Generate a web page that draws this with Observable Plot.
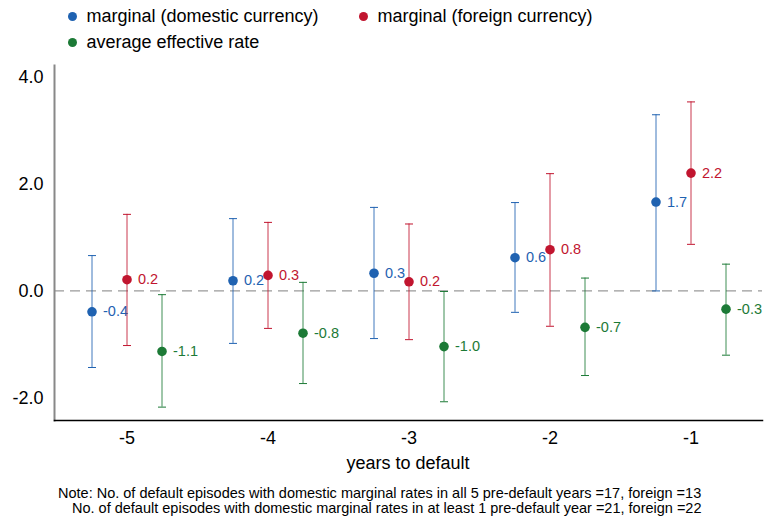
<!DOCTYPE html>
<html>
<head>
<meta charset="utf-8">
<script src="https://cdn.jsdelivr.net/npm/d3@7"></script>
<script src="https://cdn.jsdelivr.net/npm/@observablehq/plot@0.6"></script>
<style>
  body { margin: 0; background: #fff; font-family: "Liberation Sans", Arial, sans-serif; color: #000; width: 766px; }
  #legend { position: relative; height: 56px; font-size: 18px; }
  .li { position: absolute; display: flex; align-items: center; white-space: nowrap; line-height: 22px; }
  .sw { width: 9px; height: 9px; border-radius: 50%; margin-right: 10px; }
  #xlabel { padding-left: 54px; width: 708px; text-align: center; font-size: 18px; line-height: 20px; margin-top: 3px; }
  #note { font-size: 14.5px; line-height: 15px; padding-top: 13px; }
  #note div { white-space: nowrap; }
</style>
</head>
<body>
<div id="legend"></div>
<div id="chart"></div>
<div id="xlabel"></div>
<div id="note"></div>
<script>
const years = ["-5", "-4", "-3", "-2", "-1"];
const seriesNames = ["marginal (domestic currency)", "marginal (foreign currency)", "average effective rate"];
const seriesColors = ["#1f62b1", "#c1152f", "#1c7a36"];

const domesticEst = [-0.39, 0.19, 0.33, 0.62, 1.66];
const domesticLo  = [-1.43, -0.98, -0.89, -0.40, 0.0];
const domesticHi  = [0.66, 1.35, 1.56, 1.65, 3.29];

const foreignEst = [0.21, 0.29, 0.17, 0.77, 2.20];
const foreignLo  = [-1.02, -0.70, -0.91, -0.66, 0.87];
const foreignHi  = [1.43, 1.28, 1.25, 2.19, 3.53];

const averageEst = [-1.13, -0.79, -1.04, -0.68, -0.34];
const averageLo  = [-2.17, -1.73, -2.07, -1.58, -1.20];
const averageHi  = [-0.07, 0.16, -0.01, 0.24, 0.50];

const yTicks = [-2, 0, 2, 4];
const xLabel = "years to default";
const noteLines = [
  "Note: No. of default episodes with domestic marginal rates in all 5 pre-default years =17, foreign =13",
  "No. of default episodes with domestic marginal rates in at least 1 pre-default year =21, foreign =22"
];

// style offsets (pixels) for dodging the three series within a year
const dodge = [-35, 0, 35];
const ests = [domesticEst, foreignEst, averageEst];
const los = [domesticLo, foreignLo, averageLo];
const his = [domesticHi, foreignHi, averageHi];

const series = seriesNames.map((name, s) => years.map((y, i) => ({
  year: y, est: ests[s][i], lo: los[s][i], hi: his[s][i], name
})));

const capSymbol = {
  draw(context, size) {
    const r = Math.sqrt(size / Math.PI);
    context.moveTo(-r, 0);
    context.lineTo(r, 0);
  }
};

const font = '"Liberation Sans", Arial, sans-serif';
const marks = [
  Plot.ruleY([0], {stroke: "#9a9a9a", strokeWidth: 1.2, strokeDasharray: "10,6"}),
  Plot.frame({anchor: "left", stroke: "#888", strokeWidth: 2}),
  Plot.frame({anchor: "bottom", stroke: "#000", strokeWidth: 1.5}),
  Plot.axisY({ticks: yTicks, tickFormat: d => d.toFixed(1), tickSize: 0, tickPadding: 11, fontSize: 18, label: null}),
  Plot.axisX({tickSize: 0, tickPadding: 11, fontSize: 18, label: null})
];
series.forEach((data, s) => {
  const c = seriesColors[s];
  marks.push(
    Plot.ruleX(data, {x: "year", y1: "lo", y2: "hi", dx: dodge[s], stroke: c, strokeWidth: 1, strokeOpacity: 0.85}),
    Plot.dot(data, {x: "year", y: "lo", dx: dodge[s], symbol: capSymbol, r: 4, stroke: c, fill: "none", strokeWidth: 1}),
    Plot.dot(data, {x: "year", y: "hi", dx: dodge[s], symbol: capSymbol, r: 4, stroke: c, fill: "none", strokeWidth: 1}),
    Plot.dot(data, {x: "year", y: "est", dx: dodge[s], r: 4.8, fill: c, stroke: "none"}),
    Plot.text(data, {x: "year", y: "est", text: d => d.est.toFixed(1), dx: dodge[s] + 11, textAnchor: "start", fill: c, fontSize: 14.5})
  );
});

const chart = Plot.plot({
  width: 766,
  height: 394,
  marginTop: 9,
  marginBottom: 30,
  marginLeft: 54,
  marginRight: 4,
  style: {fontFamily: font, color: "#000", background: "#fff"},
  x: {type: "band", domain: years, padding: 0},
  y: {domain: [-2.42, 4.21]},
  marks
});
document.getElementById("chart").appendChild(chart);

// legend
const legendPos = [[67.5, 5], [358.5, 5], [67.5, 31]];
const legend = document.getElementById("legend");
seriesNames.forEach((n, s) => {
  const it = document.createElement("div");
  it.className = "li";
  it.style.left = legendPos[s][0] + "px";
  it.style.top = legendPos[s][1] + "px";
  it.innerHTML = `<span class="sw" style="background:${seriesColors[s]}"></span><span>${n}</span>`;
  legend.appendChild(it);
});

document.getElementById("xlabel").textContent = xLabel;
const note = document.getElementById("note");
noteLines.forEach((t, i) => {
  const d = document.createElement("div");
  d.textContent = t;
  d.style.paddingLeft = (i === 0 ? 58 : 72) + "px";
  note.appendChild(d);
});
</script>
</body>
</html>
